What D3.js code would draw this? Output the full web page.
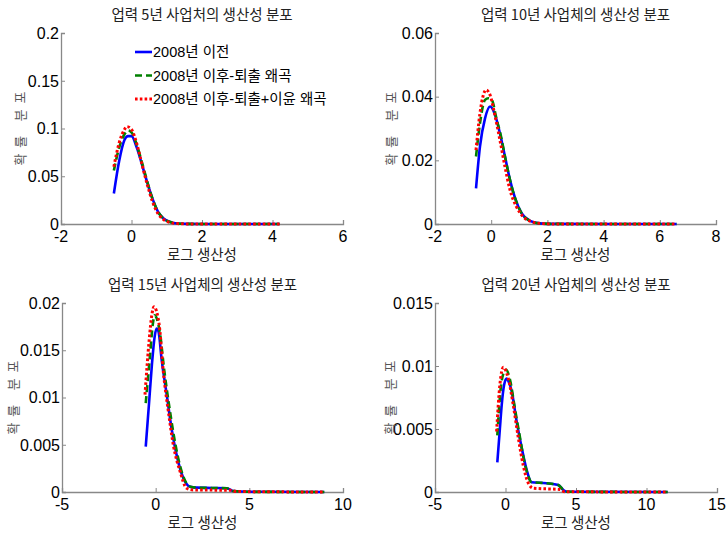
<!DOCTYPE html>
<html>
<head>
<meta charset="utf-8">
<script src="https://cdn.jsdelivr.net/npm/d3@7"></script>
<style>
  body { margin: 0; background: #fff; }
  svg { display: block; }
  .tick-label { font-family: 'Liberation Sans', Arial, sans-serif; font-size: 16px; fill: #000; }
  .kor { font-family: 'Noto Sans CJK KR', 'Noto Sans', sans-serif; }
</style>
</head>
<body>
<svg width="726" height="537"></svg>
<script>
// Panel titles and axis settings
const titles = ['업력 5년 사업처의 생산성 분포', '업력 10년 사업체의 생산성 분포', '업력 15년 사업체의 생산성 분포', '업력 20년 사업체의 생산성 분포'];
const xDomains = [[-2, 6], [-2, 8], [-5, 10], [-5, 15]];
const yDomains = [[0, 0.2], [0, 0.06], [0, 0.02], [0, 0.015]];
const xTicks = [[-2, 0, 2, 4, 6], [-2, 0, 2, 4, 6, 8], [-5, 0, 5, 10], [-5, 0, 5, 10, 15]];
const yTicks = [[0, 0.05, 0.1, 0.15, 0.2], [0, 0.02, 0.04, 0.06], [0, 0.005, 0.01, 0.015, 0.02], [0, 0.005, 0.01, 0.015]];
const seriesNames = ['2008년 이전', '2008년 이후-퇴출 왜곡', '2008년 이후-퇴출+이윤 왜곡'];

// Density curves, [log productivity, density]
const age5Before = [[-0.5, 0.032], [-0.35, 0.066], [-0.2, 0.088], [-0.1, 0.092], [0, 0.092], [0.15, 0.080], [0.3, 0.062], [0.45, 0.043], [0.6, 0.026], [0.75, 0.013], [0.9, 0.006], [1.1, 0.002], [1.3, 0.0005], [1.6, 0.0001], [2, 0], [4.2, 0]];
const age5Exit = [[-0.5, 0.056], [-0.35, 0.080], [-0.2, 0.094], [-0.1, 0.098], [0, 0.096], [0.15, 0.083], [0.3, 0.064], [0.45, 0.044], [0.6, 0.026], [0.75, 0.013], [0.9, 0.006], [1.1, 0.002], [1.3, 0.0005], [1.6, 0.0001], [2, 0], [4.2, 0]];
const age5ExitProfit = [[-0.5, 0.060], [-0.35, 0.085], [-0.2, 0.099], [-0.13, 0.102], [0, 0.099], [0.15, 0.084], [0.3, 0.062], [0.45, 0.041], [0.6, 0.023], [0.75, 0.011], [0.9, 0.005], [1.1, 0.0015], [1.3, 0.0004], [1.6, 0.0001], [2, 0], [4.2, 0]];

const age10Before = [[-0.54, 0.0112], [-0.4, 0.0243], [-0.22, 0.0332], [-0.04, 0.0369], [0.14, 0.0342], [0.31, 0.0285], [0.49, 0.0212], [0.67, 0.0138], [0.85, 0.0081], [1.08, 0.0034], [1.38, 0.001], [1.73, 0.0002], [2.2, 0.00003], [6.6, 0]];
const age10Exit = [[-0.54, 0.0212], [-0.4, 0.0316], [-0.22, 0.039], [-0.1, 0.0395], [0.02, 0.039], [0.19, 0.033], [0.35, 0.0275], [0.49, 0.0212], [0.67, 0.0138], [0.85, 0.0081], [1.08, 0.0034], [1.38, 0.001], [1.73, 0.0002], [2.2, 0.00003], [6.6, 0]];
const age10ExitProfit = [[-0.54, 0.0232], [-0.4, 0.0348], [-0.18, 0.0421], [-0.04, 0.0405], [0.14, 0.0338], [0.31, 0.0264], [0.49, 0.018], [0.67, 0.0107], [0.9, 0.0054], [1.14, 0.0023], [1.44, 0.0007], [1.73, 0.0002], [2.2, 0.00002], [6.6, 0]];

const age15Before = [[-0.53, 0.0048], [-0.35, 0.0095], [-0.2, 0.0135], [-0.05, 0.0165], [0.05, 0.0173], [0.15, 0.017], [0.32, 0.014], [0.59, 0.0103], [0.85, 0.0067], [1.12, 0.0039], [1.48, 0.00145], [1.83, 0.00056], [2.2, 0.00046], [3, 0.00043], [3.8, 0.0004], [4.15, 0.0001], [5, 0.00002], [9, 0]];
const age15Exit = [[-0.53, 0.0094], [-0.3, 0.0145], [-0.15, 0.0178], [-0.05, 0.0187], [0.05, 0.0184], [0.23, 0.0168], [0.45, 0.013], [0.7, 0.0094], [0.95, 0.0062], [1.2, 0.0036], [1.5, 0.0015], [1.85, 0.00056], [2.2, 0.00046], [3, 0.00043], [3.8, 0.0004], [4.15, 0.0001], [5, 0.00002], [9, 0]];
const age15ExitProfit = [[-0.57, 0.0103], [-0.35, 0.016], [-0.2, 0.0188], [-0.09, 0.0196], [0.05, 0.0191], [0.2, 0.0175], [0.41, 0.0127], [0.68, 0.0085], [0.94, 0.005], [1.3, 0.0022], [1.65, 0.0004], [2.0, 0.00022], [3, 0.0002], [4, 0.00018], [4.3, 0.00005], [9, 0]];

const age20Before = [[-0.58, 0.00235], [-0.4, 0.005], [-0.27, 0.0069], [-0.1, 0.0085], [0.08, 0.009], [0.25, 0.0087], [0.44, 0.008], [0.79, 0.0056], [1.15, 0.0035], [1.5, 0.00175], [1.85, 0.00077], [2.9, 0.0007], [3.75, 0.00055], [4.1, 0.00016], [4.4, 0.00002], [11.5, 0]];
const age20Exit = [[-0.58, 0.0045], [-0.34, 0.0082], [-0.15, 0.0094], [0.04, 0.0097], [0.32, 0.0089], [0.67, 0.0066], [1.0, 0.0045], [1.3, 0.0026], [1.6, 0.0013], [1.85, 0.00078], [2.9, 0.0007], [3.75, 0.00055], [4.1, 0.00016], [4.4, 0.00002], [11.5, 0]];
const age20ExitProfit = [[-0.63, 0.0048], [-0.4, 0.0085], [-0.15, 0.0099], [0.2, 0.009], [0.55, 0.0069], [0.91, 0.0043], [1.26, 0.0021], [1.62, 0.0007], [1.97, 0.0003], [3.85, 0.0002], [4.2, 0.00002], [11.5, 0]];

const panelSeries = [
  [age5Before, age5Exit, age5ExitProfit],
  [age10Before, age10Exit, age10ExitProfit],
  [age15Before, age15Exit, age15ExitProfit],
  [age20Before, age20Exit, age20ExitProfit]
];

const svg = d3.select('svg');

// Plot boxes for the 2x2 grid
const boxes = [
  { left: 61, right: 343, top: 33, bottom: 224, ylab: 20 },
  { left: 435, right: 716, top: 33, bottom: 224, ylab: 391 },
  { left: 62, right: 343, top: 303, bottom: 492, ylab: 13 },
  { left: 435, right: 717, top: 303, bottom: 492, ylab: 390 }
];

const styles = [
  { color: '#0000ff', dash: null, width: 2.6 },
  { color: '#008000', dash: '7,4', width: 2.6 },
  { color: '#ff0000', dash: '2.6,2.2', width: 3 }
];

boxes.forEach((b, i) => drawPanel(b, i));
drawLegend();

function drawPanel(b, i) {
  const x = d3.scaleLinear().domain(xDomains[i]).range([b.left, b.right]);
  const y = d3.scaleLinear().domain(yDomains[i]).range([b.bottom, b.top]);
  const g = svg.append('g');

  // axes: left and bottom only, ticks pointing inward
  const xAxis = g.append('g')
    .attr('transform', 'translate(0,' + b.bottom + ')')
    .call(d3.axisTop(x).tickValues(xTicks[i]).tickSize(4).tickFormat(''));
  const yAxis = g.append('g')
    .attr('transform', 'translate(' + b.left + ',0)')
    .call(d3.axisRight(y).tickValues(yTicks[i]).tickSize(4).tickFormat(''));
  [xAxis, yAxis].forEach((a) => {
    a.select('.domain').attr('stroke', '#888').attr('stroke-width', 1.3);
    a.selectAll('.tick line').attr('stroke', '#888');
  });

  g.selectAll('.xt')
    .data(xTicks[i])
    .enter()
    .append('text')
    .attr('class', 'tick-label')
    .attr('x', (d) => x(d))
    .attr('y', b.bottom + 18)
    .attr('text-anchor', 'middle')
    .text((d) => d);

  g.selectAll('.yt')
    .data(yTicks[i])
    .enter()
    .append('text')
    .attr('class', 'tick-label')
    .attr('x', b.left - 2)
    .attr('y', (d) => y(d))
    .attr('dy', '0.36em')
    .attr('text-anchor', 'end')
    .text((d) => d);

  const cx = (b.left + b.right) / 2;

  g.append('text')
    .attr('class', 'kor')
    .attr('x', cx)
    .attr('y', b.top - 13)
    .attr('text-anchor', 'middle')
    .attr('font-size', 14.5)
    .attr('fill', '#222')
    .text(titles[i]);

  g.append('text')
    .attr('class', 'kor')
    .attr('x', cx)
    .attr('y', b.bottom + 36)
    .attr('text-anchor', 'middle')
    .attr('font-size', 14.5)
    .attr('fill', '#222')
    .text('로그 생산성');

  const yc = (b.top + b.bottom) / 2;
  g.append('text')
    .attr('class', 'kor')
    .attr('transform', 'translate(' + b.ylab + ',' + yc + ') rotate(-90)')
    .attr('text-anchor', 'middle')
    .attr('dy', '0.35em')
    .attr('font-size', 13)
    .attr('fill', '#555')
    .attr('textLength', 74)
    .attr('lengthAdjust', 'spacing')
    .text('확률 분포');

  const line = d3.line()
    .x((d) => x(d[0]))
    .y((d) => y(d[1]))
    .curve(d3.curveMonotoneX);

  panelSeries[i].forEach((s, k) => {
    g.append('path')
      .datum(s)
      .attr('d', line)
      .attr('fill', 'none')
      .attr('stroke', styles[k].color)
      .attr('stroke-width', styles[k].width)
      .attr('stroke-dasharray', styles[k].dash);
  });
}

// Legend inside the first panel, no frame
function drawLegend() {
  const lg = svg.append('g').attr('transform', 'translate(135,52)');
  seriesNames.forEach((name, k) => {
    const row = lg.append('g').attr('transform', 'translate(0,' + k * 23.5 + ')');
    row.append('line')
      .attr('x1', 0)
      .attr('x2', 17)
      .attr('stroke', styles[k].color)
      .attr('stroke-width', styles[k].width)
      .attr('stroke-dasharray', styles[k].dash);
    row.append('text')
      .attr('x', 18)
      .attr('dy', '0.36em')
      .attr('font-family', "'Liberation Sans', 'Noto Sans CJK KR', sans-serif")
      .attr('font-size', 14.5)
      .attr('fill', '#000')
      .text(name);
  });
}
</script>
</body>
</html>
